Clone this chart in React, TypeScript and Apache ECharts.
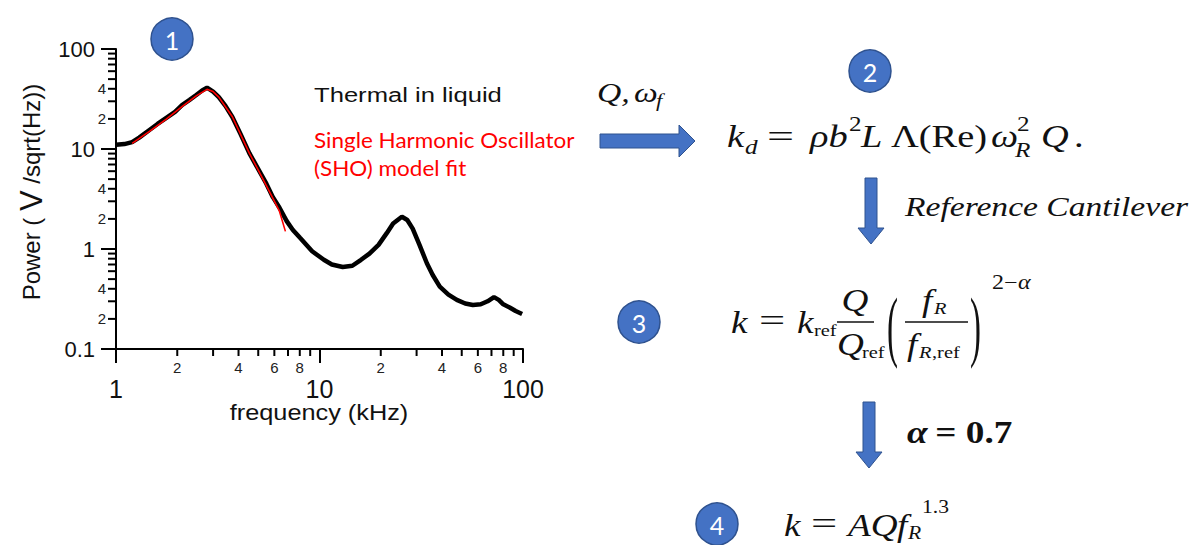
import React, { useEffect, useRef } from "react";
import * as echarts from "echarts";

// ---- data ----
const freqMeasured = [1.0, 1.1, 1.2, 1.3, 1.46, 1.6, 1.76, 1.95, 2.11, 2.3, 2.48, 2.65, 2.8, 3.0, 3.2, 3.45, 3.73, 4.1, 4.52, 5.0, 5.48, 5.9, 6.35, 6.9, 7.4, 8.0, 9.2, 10.5, 11.5, 13, 14.5, 16, 17.6, 19.5, 21.4, 23, 25.4, 27, 28.7, 31, 33.7, 36, 39, 43, 47.3, 52, 56.7, 62, 67, 72, 76, 80, 86, 92, 99];
const powerMeasured = [11, 11.2, 11.7, 13, 15.5, 17.8, 20.4, 23.5, 27.5, 31, 34.7, 38.5, 41, 37.5, 33, 27, 20.9, 14, 9.1, 6.3, 4.5, 3.3, 2.6, 1.9, 1.55, 1.3, 0.95, 0.78, 0.7, 0.66, 0.68, 0.78, 0.9, 1.1, 1.44, 1.8, 2.1, 1.95, 1.6, 1.1, 0.72, 0.55, 0.42, 0.35, 0.31, 0.285, 0.275, 0.28, 0.3, 0.33, 0.31, 0.28, 0.26, 0.24, 0.224];
const freqFit = [1.2, 1.46, 1.76, 2.11, 2.48, 2.8, 3.0, 3.2, 3.73, 4.52, 5.48, 6.35, 6.8];
const powerFit = [11.4, 15, 19.8, 26.5, 34, 39.5, 37.5, 33, 21, 9.1, 4.3, 2.4, 1.5];

const xMin = 1;
const xMax = 100;
const yMin = 0.1;
const yMax = 100;
const xMinorTicks = [2, 3, 4, 5, 6, 7, 8, 9, 20, 30, 40, 50, 60, 70, 80, 90];
const xMinorLabels = [2, 4, 6, 8, 20, 40, 60, 80];
const yMinorTicks = [0.2, 0.3, 0.4, 0.5, 0.6, 0.7, 0.8, 0.9, 2, 3, 4, 5, 6, 7, 8, 9, 20, 30, 40, 50, 60, 70, 80, 90];
const yMinorLabels = [0.2, 0.4, 2, 4, 20, 40];

const SANS = '"Liberation Sans", Arial, Helvetica, sans-serif';
const SERIF = '"Liberation Serif", "DejaVu Serif", serif';
const CAL = 'Lato, "Open Sans", sans-serif';
const BLUE = "#4472C4";
const BLUE_EDGE = "#2F528F";
const SX = 1.2;

const mantissa = (v: number) => String(Math.round(v / Math.pow(10, Math.floor(Math.log10(v) + 1e-9))));

const txt = (x: number, y: number, text: string, size: number, o: any = {}) => ({
  type: "text",
  x,
  y,
  scaleX: o.sx ?? SX,
  scaleY: o.sy ?? 1,
  silent: true,
  style: {
    text,
    fontSize: size,
    fontFamily: o.family ?? SERIF,
    fontStyle: o.italic ? "italic" : "normal",
    fontWeight: o.bold ? "bold" : "normal",
    fill: o.color ?? "#111",
    align: o.align ?? "left",
    textAlign: o.align ?? "left",
    verticalAlign: "middle",
    textVerticalAlign: "middle",
  },
});

const badge = (cx: number, cy: number, label: string) => ({
  type: "group",
  silent: true,
  children: [
    { type: "circle", shape: { cx, cy, r: 21 }, style: { fill: BLUE, stroke: BLUE_EDGE, lineWidth: 1.5 } },
    {
      type: "text",
      x: cx,
      y: cy + 1,
      style: { text: label, fill: "#fff", fontSize: 25, fontFamily: CAL, align: "center", textAlign: "center", verticalAlign: "middle", textVerticalAlign: "middle" },
    },
  ],
});

const downArrow = (cx: number, y0: number, y1: number) => ({
  type: "polygon",
  silent: true,
  shape: {
    points: [
      [cx - 6, y0], [cx + 6, y0], [cx + 6, y1 - 16], [cx + 13, y1 - 16], [cx, y1], [cx - 13, y1 - 16], [cx - 6, y1 - 16],
    ],
  },
  style: { fill: BLUE, stroke: BLUE_EDGE, lineWidth: 1 },
});

const hline = (x1: number, x2: number, y: number) => ({
  type: "line",
  silent: true,
  shape: { x1, y1: y, x2, y2: y },
  style: { stroke: "#111", lineWidth: 1.3 },
});

export default function App() {
  const ref = useRef<HTMLDivElement>(null);
  useEffect(() => {
    if (!ref.current) return;
    const chart = echarts.init(ref.current, null, { renderer: "svg" });

    const graphic: any[] = [
      badge(172, 39, "1"),
      badge(870, 71, "2"),
      badge(639, 322, "3"),
      badge(717, 524, "4"),
      // axis titles
      {
        type: "text",
        x: 31,
        y: 192,
        rotation: Math.PI / 2,
        silent: true,
        style: {
          text: "{a|Power ( }{v|V}{a| /sqrt(Hz))}",
          align: "center",
          textAlign: "center",
          verticalAlign: "middle",
          textVerticalAlign: "middle",
          rich: {
            a: { fontSize: 24, fontFamily: SANS, fill: "#111" },
            v: { fontSize: 31, fontFamily: SANS, fill: "#111" },
          },
        },
      },
      txt(319, 413, "frequency (kHz)", 22, { family: SANS, align: "center", sx: 1.15 }),
      // annotations
      txt(314, 95, "Thermal in liquid", 21, { family: SANS, sx: 1.22 }),
      txt(314, 140, "Single Harmonic Oscillator", 21, { family: CAL, color: "#FF0000", sx: 1.07 }),
      txt(314, 168, "(SHO) model fit", 21, { family: CAL, color: "#FF0000", sx: 1.07 }),
      txt(597, 92, "Q,", 28, { italic: true }),
      txt(634, 92, "ω", 28, { italic: true }),
      txt(656, 101, "f", 19, { italic: true }),
      {
        type: "polygon",
        silent: true,
        shape: { points: [[600, 134], [679, 134], [679, 125], [695, 141], [679, 157], [679, 148], [600, 148]] },
        style: { fill: BLUE, stroke: BLUE_EDGE, lineWidth: 1 },
      },
      // equation 2
      txt(727, 137, "k", 32, { italic: true }),
      txt(745, 147, "d", 21, { italic: true }),
      txt(767, 136, "=", 32, { sx: 1.5 }),
      txt(810, 137, "ρb", 32, { italic: true }),
      txt(849, 124, "2", 21),
      txt(861, 137, "L", 32, { italic: true }),
      txt(891, 137, "Λ(Re)", 32),
      txt(991, 137, "ω", 32, { italic: true }),
      txt(1017, 124, "2", 21),
      txt(1015, 150, "R", 21, { italic: true }),
      txt(1041, 137, "Q", 32, { italic: true }),
      txt(1074, 137, ".", 32),
      downArrow(871, 178, 244),
      txt(905, 206, "Reference Cantilever", 28, { italic: true }),
      // equation 3
      txt(731, 322, "k", 31, { italic: true }),
      txt(759, 321, "=", 31, { sx: 1.5 }),
      txt(797, 322, "k", 31, { italic: true }),
      txt(814, 330, "ref", 17),
      txt(855, 300, "Q", 31, { italic: true, align: "center" }),
      hline(837, 874, 322),
      txt(837, 344, "Q", 31, { italic: true }),
      txt(862, 352, "ref", 17),
      txt(887, 326, "(", 30, { sy: 2.6, sx: 1.1 }),
      txt(922, 300, "f", 31, { italic: true }),
      txt(934, 308, "R", 17, { italic: true }),
      hline(905, 968, 322),
      txt(907, 344, "f", 31, { italic: true }),
      txt(919, 352, "R", 17, { italic: true }),
      txt(932, 352, ",ref", 17),
      txt(970, 326, ")", 30, { sy: 2.6, sx: 1.1 }),
      txt(992, 282, "2−", 20),
      txt(1018, 282, "α", 20, { italic: true }),
      downArrow(869, 402, 468),
      txt(907, 432, "α", 31, { italic: true, bold: true }),
      txt(926, 432, " = 0.7", 31, { bold: true }),
      // equation 4
      txt(784, 525, "k", 31, { italic: true }),
      txt(811, 524, "=", 31, { sx: 1.5 }),
      txt(848, 525, "AQ", 31, { italic: true }),
      txt(897, 525, "f", 31, { italic: true }),
      txt(908, 533, "R", 18, { italic: true }),
      txt(922, 507, "1.3", 18),
    ];

    const option: any = {
      animation: false,
      backgroundColor: "#ffffff",
      grid: { left: 116, right: 677, top: 49, bottom: 196, containLabel: false },
      xAxis: {
        type: "log",
        logBase: 10,
        min: xMin,
        max: xMax,
        axisLine: { show: true, onZero: false, lineStyle: { color: "#000", width: 2 } },
        axisTick: { show: true, length: 14, lineStyle: { color: "#000", width: 2 } },
        axisLabel: { fontSize: 25, color: "#111", margin: 27, fontFamily: SANS },
        splitLine: { show: false },
      },
      yAxis: {
        type: "log",
        logBase: 10,
        min: yMin,
        max: yMax,
        axisLine: { show: true, onZero: false, lineStyle: { color: "#000", width: 2 } },
        axisTick: { show: true, length: 15, lineStyle: { color: "#000", width: 2 } },
        axisLabel: {
          fontSize: 22,
          color: "#111",
          margin: 21,
          fontFamily: SANS,
          formatter: (v: number) => (v >= 1 ? String(Math.round(v)) : String(+v.toFixed(1))),
        },
        splitLine: { show: false },
      },
      series: [
        {
          type: "line",
          name: "Thermal in liquid",
          data: freqMeasured.map((f, i) => [f, powerMeasured[i]]),
          showSymbol: false,
          lineStyle: { color: "#000", width: 4.5 },
          z: 2,
        },
        {
          type: "line",
          name: "SHO model fit",
          data: freqFit.map((f, i) => [f, powerFit[i]]),
          showSymbol: false,
          lineStyle: { color: "#FF0000", width: 1.6 },
          z: 3,
        },
        {
          type: "custom",
          name: "x minor ticks",
          data: xMinorTicks.map((f) => [f, yMin]),
          clip: false,
          silent: true,
          z: 5,
          renderItem: (params: any, api: any) => {
            const f = api.value(0);
            const p = api.coord([f, yMin]);
            const children: any[] = [
              { type: "line", shape: { x1: p[0], y1: p[1], x2: p[0], y2: p[1] + 7 }, style: { stroke: "#000", lineWidth: 2 } },
            ];
            if (xMinorLabels.some((m) => Math.abs(m - f) < 1e-9)) {
              children.push({
                type: "text",
                x: p[0],
                y: p[1] + 18,
                style: { text: mantissa(f), fontSize: 15, fontFamily: SANS, fill: "#222", align: "center", verticalAlign: "middle" },
              });
            }
            return { type: "group", children };
          },
        },
        {
          type: "custom",
          name: "y minor ticks",
          data: yMinorTicks.map((v) => [xMin, v]),
          clip: false,
          silent: true,
          z: 5,
          renderItem: (params: any, api: any) => {
            const v = api.value(1);
            const p = api.coord([xMin, v]);
            const children: any[] = [
              { type: "line", shape: { x1: p[0] - 8, y1: p[1], x2: p[0], y2: p[1] }, style: { stroke: "#000", lineWidth: 2 } },
            ];
            if (yMinorLabels.some((m) => Math.abs(m - v) < 1e-9)) {
              children.push({
                type: "text",
                x: p[0] - 10,
                y: p[1],
                style: { text: mantissa(v), fontSize: 15, fontFamily: SANS, fill: "#222", align: "right", verticalAlign: "middle" },
              });
            }
            return { type: "group", children };
          },
        },
      ],
      graphic,
    };
    chart.setOption(option);
    return () => chart.dispose();
  }, []);

  return <div ref={ref} style={{ position: "fixed", left: 0, top: 0, width: 1200, height: 545, background: "#fff" }} />;
}
